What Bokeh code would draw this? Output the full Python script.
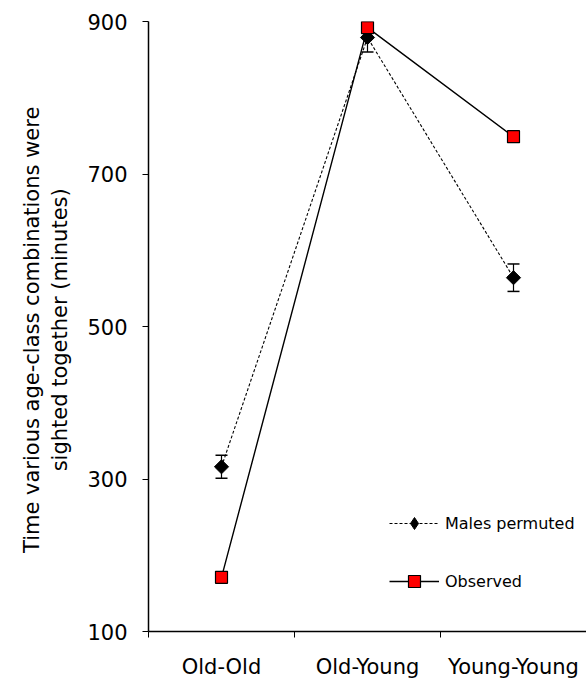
import numpy as np
from bokeh.plotting import figure
from bokeh.models import (ColumnDataSource, FixedTicker, Whisker, TeeHead, Legend,
                          LegendItem, Range1d)
from bokeh.embed import file_html
from bokeh.resources import INLINE

categories = ["Old-Old", "Old-Young", "Young-Young"]
males_permuted = [316, 879, 564]
males_err = [15, 19, 18]
observed = [171, 892, 749]
y_ticks = [100, 300, 500, 700, 900]

xpos = [i + 0.5 for i in range(len(categories))]
FONT = "DejaVu Sans"

p = figure(width=586, height=682, output_backend="svg", toolbar_location=None,
           x_range=Range1d(0, len(categories)), y_range=Range1d(100, 900),
           min_border_left=148, min_border_right=0, min_border_top=21,
           min_border_bottom=51)
p.outline_line_color = None
p.grid.visible = False
p.background_fill_color = "white"
p.border_fill_color = "white"

# x axis
p.xaxis.ticker = FixedTicker(ticks=xpos, minor_ticks=list(range(len(categories) + 1)))
p.xaxis.major_label_overrides = {x: c for x, c in zip(xpos, categories)}
p.xaxis.major_tick_line_color = None
p.xaxis.major_tick_out = 0
p.xaxis.major_tick_in = 0
p.xaxis.minor_tick_out = 6
p.xaxis.minor_tick_in = 0
p.xaxis.minor_tick_line_width = 1
p.xaxis.major_label_standoff = 17
p.xaxis.axis_line_width = 1.5
p.xaxis.major_label_text_font = FONT
p.xaxis.major_label_text_font_size = "21px"
p.xaxis.major_label_text_color = "black"

# y axis
p.yaxis.ticker = FixedTicker(ticks=y_ticks, minor_ticks=[])
p.yaxis.major_tick_out = 6
p.yaxis.major_tick_in = 0
p.yaxis.major_tick_line_width = 1
p.yaxis.axis_line_width = 1.5
p.yaxis.major_label_standoff = 15
p.yaxis.major_label_text_font = FONT
p.yaxis.major_label_text_font_size = "21px"
p.yaxis.major_label_text_color = "black"
p.yaxis.axis_label = "Time various age-class combinations  were\nsighted together  (minutes)"
p.yaxis.axis_label_text_font = FONT
p.yaxis.axis_label_text_font_size = "21px"
p.yaxis.axis_label_text_font_style = "normal"
p.yaxis.axis_label_text_color = "black"
p.yaxis.axis_label_standoff = 12

src_m = ColumnDataSource(dict(x=xpos, y=males_permuted,
                              upper=[v + e for v, e in zip(males_permuted, males_err)],
                              lower=[v - e for v, e in zip(males_permuted, males_err)]))
src_o = ColumnDataSource(dict(x=xpos, y=observed))

w = Whisker(base="x", upper="upper", lower="lower", source=src_m, dimension="height",
            line_color="black", line_width=1.2,
            upper_head=TeeHead(size=12, line_width=1.5, line_color="black"),
            lower_head=TeeHead(size=12, line_width=1.5, line_color="black"))
p.add_layout(w)

lm = p.line("x", "y", source=src_m, line_color="black", line_width=1.1, line_dash="3 2")
# diamond used for the legend; hidden underneath the rotated-square markers
proxy = p.scatter("x", "y", source=src_m, marker="diamond", size=12,
                  fill_color="black", line_color="black")
sm = p.scatter("x", "y", source=src_m, marker="square", angle=np.pi / 4, size=10,
               fill_color="black", line_color="black")
lo = p.line("x", "y", source=src_o, line_color="black", line_width=1.4)
so = p.scatter("x", "y", source=src_o, marker="square", size=12,
               fill_color="#ff0000", line_color="black", line_width=1.2)

legend = Legend(items=[LegendItem(label="Males permuted", renderers=[lm, proxy]),
                       LegendItem(label="Observed", renderers=[lo, so])],
                location=(241, 35), glyph_width=50, glyph_height=30, label_height=30,
                spacing=28, padding=0, margin=0, label_standoff=6,
                border_line_color=None, background_fill_alpha=0,
                label_text_font=FONT, label_text_font_size="16px",
                label_text_color="black")
p.add_layout(legend)

open("out.html", "w").write(file_html(p, INLINE))
